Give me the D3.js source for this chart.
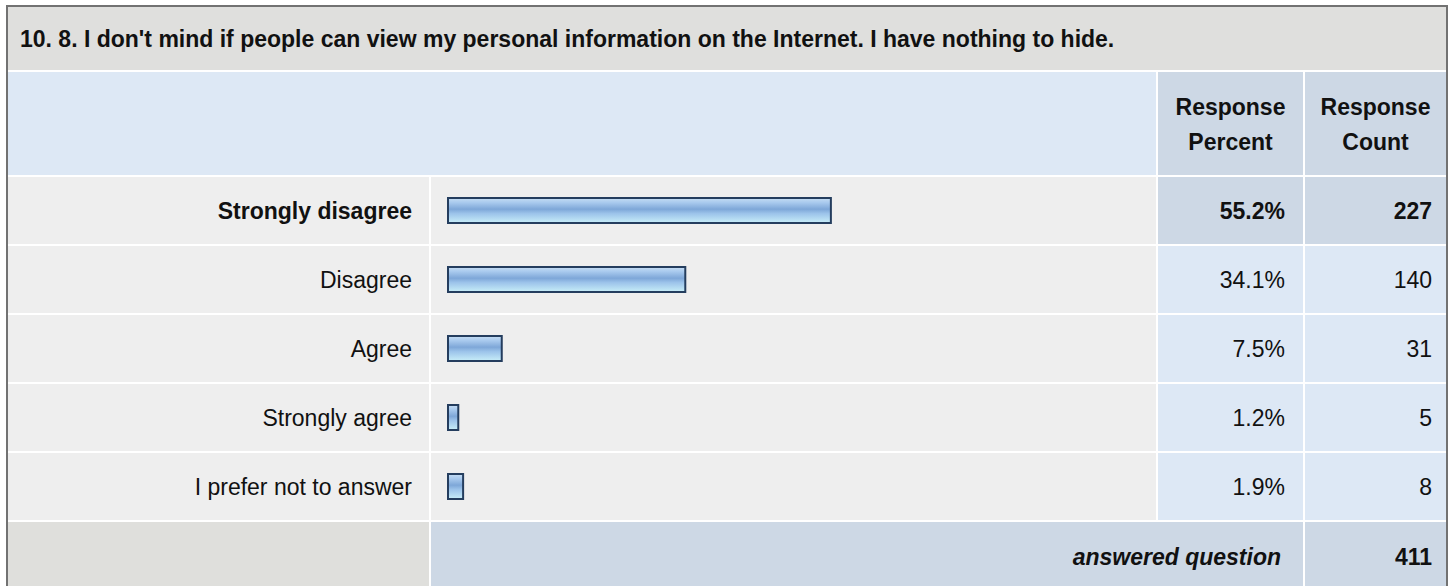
<!DOCTYPE html>
<html>
<head>
<meta charset="utf-8">
<script src="https://cdn.jsdelivr.net/npm/d3@7"></script>
<style>
  html, body { margin: 0; padding: 0; background: #ffffff; }
  svg { display: block; }
  text { font-family: Arial, "Liberation Sans", Helvetica, sans-serif; fill: #111111; }
</style>
</head>
<body>
<svg id="chart" width="1452" height="586"></svg>
<script>
// ---- data ----
const questionTitle = "10. 8. I don't mind if people can view my personal information on the Internet. I have nothing to hide.";
const categories = ["Strongly disagree", "Disagree", "Agree", "Strongly agree", "I prefer not to answer"];
const percents = [55.2, 34.1, 7.5, 1.2, 1.9];
const counts = [227, 140, 31, 5, 8];
const headerPercent = ["Response", "Percent"];
const headerCount = ["Response", "Count"];
const answeredLabel = "answered question";
const answeredCount = 411;

// ---- layout ----
const W = 1452, H = 586;
const svg = d3.select("#chart");
const FS = 23;

const colLabel = [8, 429];
const colBar = [431, 1156];
const colPct = [1158, 1303];
const colCnt = [1305, 1446];

const titleY = [7, 70];
const headerY = [72, 175];

const y = d3.scaleBand().domain(categories).range([176, 521]).paddingInner(0).paddingOuter(0);
const footerY = [522, 600];

const barX0 = 447;
const x = d3.scaleLinear().domain([0, 100]).range([0, 690]);
const barH = 27;
const maxPct = d3.max(percents);

// gradient
const defs = svg.append("defs");
const grad = defs.append("linearGradient").attr("id", "barGrad")
  .attr("x1", 0).attr("y1", 0).attr("x2", 0).attr("y2", 1);
[[0, "#c6ddf3"], [0.18, "#a9caee"], [0.45, "#7ea7d8"], [0.62, "#9cc3ea"], [1, "#c8eef8"]]
  .forEach(([o, c]) => grad.append("stop").attr("offset", o).attr("stop-color", c));

// background
svg.append("rect").attr("x", 0).attr("y", 0).attr("width", W).attr("height", H).attr("fill", "#ffffff");

// title row
svg.append("rect").attr("x", colLabel[0]).attr("y", titleY[0])
  .attr("width", colCnt[1] - colLabel[0]).attr("height", titleY[1] - titleY[0]).attr("fill", "#dfdfdd");
svg.append("text").attr("x", 20).attr("y", 47)
  .attr("font-size", FS).attr("font-weight", "bold").text(questionTitle);

// header row
svg.append("rect").attr("x", colLabel[0]).attr("y", headerY[0])
  .attr("width", colBar[1] - colLabel[0]).attr("height", headerY[1] - headerY[0]).attr("fill", "#dde8f5");
[[colPct, headerPercent], [colCnt, headerCount]].forEach(([col, lines]) => {
  svg.append("rect").attr("x", col[0]).attr("y", headerY[0])
    .attr("width", col[1] - col[0]).attr("height", headerY[1] - headerY[0]).attr("fill", "#cdd8e5");
  const t = svg.append("text").attr("text-anchor", "middle").attr("font-size", FS).attr("font-weight", "bold");
  lines.forEach((ln, i) => {
    t.append("tspan").attr("x", (col[0] + col[1]) / 2).attr("y", 115 + i * 35).text(ln);
  });
});

// data rows
const rows = svg.append("g").selectAll("g.row")
  .data(categories.map((c, i) => ({ c, p: percents[i], n: counts[i] })))
  .join("g").attr("class", "row");

rows.append("rect").attr("x", colLabel[0]).attr("y", d => y(d.c) + 1)
  .attr("width", colLabel[1] - colLabel[0]).attr("height", y.bandwidth() - 2).attr("fill", "#eeeeee");
rows.append("rect").attr("x", colBar[0]).attr("y", d => y(d.c) + 1)
  .attr("width", colBar[1] - colBar[0]).attr("height", y.bandwidth() - 2).attr("fill", "#eeeeee");
rows.append("rect").attr("x", colPct[0]).attr("y", d => y(d.c) + 1)
  .attr("width", colPct[1] - colPct[0]).attr("height", y.bandwidth() - 2)
  .attr("fill", d => d.p === maxPct ? "#cdd8e5" : "#dde8f5");
rows.append("rect").attr("x", colCnt[0]).attr("y", d => y(d.c) + 1)
  .attr("width", colCnt[1] - colCnt[0]).attr("height", y.bandwidth() - 2)
  .attr("fill", d => d.p === maxPct ? "#cdd8e5" : "#dde8f5");

// bars
rows.append("rect")
  .attr("x", barX0 + 1)
  .attr("y", d => y(d.c) + y.bandwidth() / 2 - barH / 2 + 1)
  .attr("width", d => x(d.p) + 2)
  .attr("height", barH - 2)
  .attr("fill", "url(#barGrad)")
  .attr("stroke", "#243d5e")
  .attr("stroke-width", 2);

const base = d => y(d.c) + y.bandwidth() / 2 + 8;
rows.append("text").attr("x", 412).attr("y", base).attr("text-anchor", "end")
  .attr("font-size", FS).attr("font-weight", d => d.p === maxPct ? "bold" : "normal").text(d => d.c);
rows.append("text").attr("x", 1285).attr("y", base).attr("text-anchor", "end")
  .attr("font-size", FS).attr("font-weight", d => d.p === maxPct ? "bold" : "normal")
  .text(d => d3.format(".1f")(d.p) + "%");
rows.append("text").attr("x", 1432).attr("y", base).attr("text-anchor", "end")
  .attr("font-size", FS).attr("font-weight", d => d.p === maxPct ? "bold" : "normal").text(d => d.n);

// footer
svg.append("rect").attr("x", colLabel[0]).attr("y", footerY[0])
  .attr("width", colLabel[1] - colLabel[0]).attr("height", footerY[1] - footerY[0]).attr("fill", "#dfdfdc");
svg.append("rect").attr("x", colBar[0]).attr("y", footerY[0])
  .attr("width", colPct[1] - colBar[0]).attr("height", footerY[1] - footerY[0]).attr("fill", "#cdd8e5");
svg.append("rect").attr("x", colCnt[0]).attr("y", footerY[0])
  .attr("width", colCnt[1] - colCnt[0]).attr("height", footerY[1] - footerY[0]).attr("fill", "#cdd8e5");
svg.append("text").attr("x", 1281).attr("y", 565).attr("text-anchor", "end")
  .attr("font-size", FS).attr("font-weight", "bold").attr("font-style", "italic").text(answeredLabel);
svg.append("text").attr("x", 1432).attr("y", 565).attr("text-anchor", "end")
  .attr("font-size", FS).attr("font-weight", "bold").text(answeredCount);

// outer border
svg.append("rect").attr("x", 7).attr("y", 6).attr("width", 1440).attr("height", 640)
  .attr("fill", "none").attr("stroke", "#727272").attr("stroke-width", 2);
</script>
</body>
</html>
